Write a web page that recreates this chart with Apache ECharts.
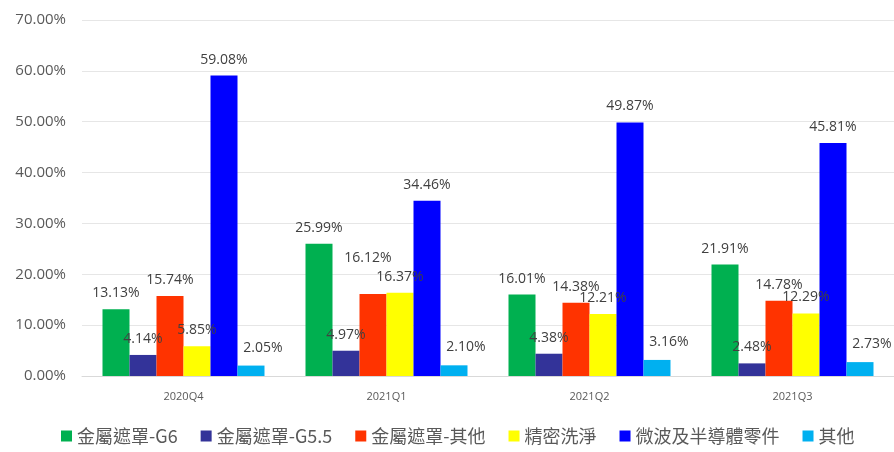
<!DOCTYPE html>
<html><head><meta charset="utf-8">
<script src="https://cdn.jsdelivr.net/npm/echarts@6/dist/echarts.min.js"></script>
<style>html,body{margin:0;padding:0;background:#fff}#c{width:894px;height:452px}</style>
</head><body><div id="c"></div>
<script>
const categories = ['2020Q4','2021Q1','2021Q2','2021Q3'];
const seriesNames = ['金屬遮罩-G6','金屬遮罩-G5.5','金屬遮罩-其他','精密洗淨','微波及半導體零件','其他'];
const g6 = [13.13, 25.99, 16.01, 21.91];
const g55 = [4.14, 4.97, 4.38, 2.48];
const other = [15.74, 16.12, 14.38, 14.78];
const cleaning = [5.85, 16.37, 12.21, 12.29];
const microwave = [59.08, 34.46, 49.87, 45.81];
const misc = [2.05, 2.10, 3.16, 2.73];
const colors = ['#00B050','#333399','#FF3300','#FFFF00','#0000FF','#00B0F0'];
const allData = [g6, g55, other, cleaning, microwave, misc];

const chart = echarts.init(document.getElementById('c'));
const numFont = '"Open Sans", "Noto Sans CJK TC", sans-serif';
chart.setOption({
  animation: false,
  color: colors,
  grid: {left: 82, right: 0, top: 20, bottom: 76},
  legend: {
    bottom: 2, left: 56,
    itemWidth: 11, itemHeight: 11, itemGap: 23,
    icon: 'rect',
    textStyle: {fontFamily: '"Noto Sans CJK TC", sans-serif', fontSize: 18, color: '#595959'},
    data: seriesNames
  },
  xAxis: {
    type: 'category', data: categories,
    axisLine: {lineStyle: {color: '#d9d9d9'}},
    axisTick: {show: false},
    axisLabel: {color: '#595959', fontSize: 11, fontFamily: numFont, margin: 15}
  },
  yAxis: {
    type: 'value', min: 0, max: 70, interval: 10,
    axisLabel: {formatter: v => v.toFixed(2) + '%', color: '#595959', fontSize: 15, fontFamily: numFont, margin: 16},
    splitLine: {lineStyle: {color: '#e6e6e6'}},
    axisLine: {show: false}, axisTick: {show: false}
  },
  series: seriesNames.map((n, i) => ({
    name: n, type: 'bar',
    data: allData[i].map((v, j) => (i === 2 && j === 1) ? {value: v, label: {offset: [-5, -20]}} : v),
    barWidth: 27, barGap: '0%',
    label: {show: true, position: 'top', distance: 9, offset: i === 5 ? [12, -2] : [0, 0],
      formatter: p => p.value.toFixed(2) + '%',
      color: '#404040', fontSize: 14, fontFamily: numFont}
  }))
});
</script></body></html>
